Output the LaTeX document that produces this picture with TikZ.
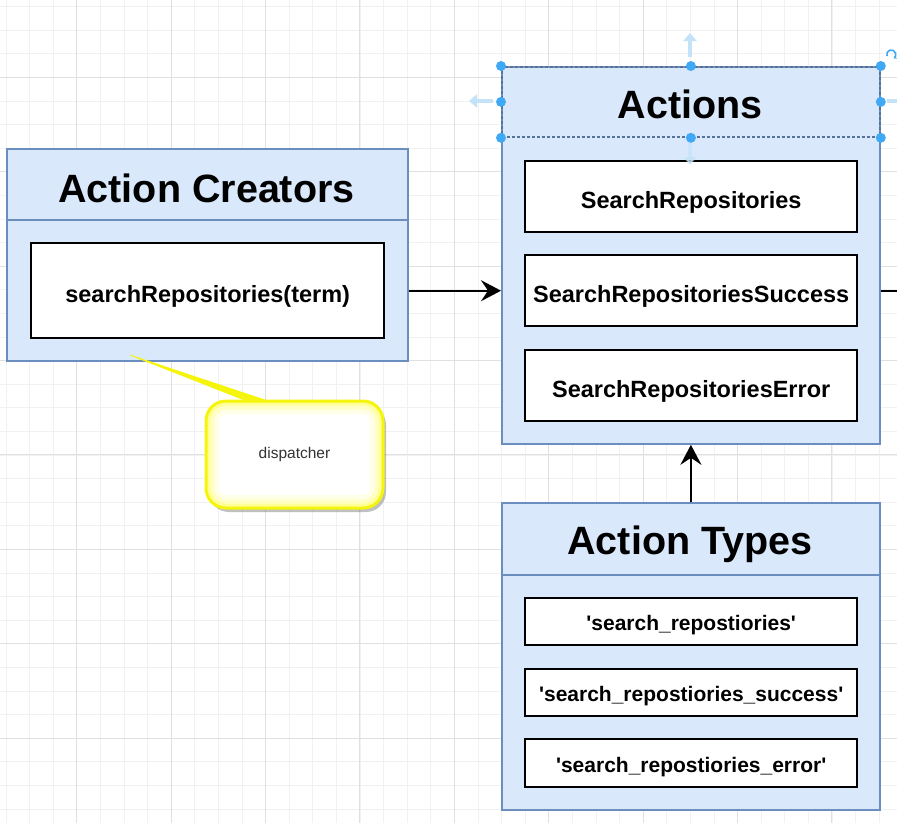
\documentclass[tikz,border=0pt]{standalone}
\usepackage{fontspec}
\setmainfont{Liberation Sans}
\usetikzlibrary{arrows.meta,shadows}
\definecolor{boxfill}{HTML}{DAE8FC}
\definecolor{boxline}{HTML}{6C8EBF}
\definecolor{gridminor}{HTML}{F1F1F1}
\definecolor{gridmajor}{HTML}{E0E0E0}
\definecolor{handle}{HTML}{3FA9F5}
\definecolor{handlefaint}{HTML}{C4E3F8}
\definecolor{noteline}{HTML}{F4F40C}
\definecolor{noteedge}{HTML}{FFFF40}
\begin{document}
\begin{tikzpicture}[x=1pt,y=-1pt,
    container/.style={draw=boxline,fill=boxfill,line width=1.8pt,inner sep=0pt,anchor=north west},
    headbar/.style={draw=boxline,line width=1.8pt,inner sep=0pt,anchor=north west},
    title/.style={anchor=base,font=\fontsize{39.5}{40}\selectfont\bfseries},
    member/.style={draw=black,fill=white,line width=2.4pt,inner sep=0pt,anchor=north west,
        text height=24pt,text depth=0pt,font=\fontsize{23.5}{24}\selectfont\bfseries},
    typename/.style={member,text height=17.6pt,font=\fontsize{21}{22}\selectfont\bfseries},
    flow/.style={line width=2.2pt,-{Stealth[length=20pt,width=21pt,inset=7pt]}},
    note/.style={anchor=north west,inner sep=0pt,outer sep=0pt,rounded corners=20pt,fill=white,
        text=black!80,font=\fontsize{15.5}{16}\selectfont,
        drop shadow={shadow xshift=3pt,shadow yshift=-4pt,opacity=.35,fill=black!70}},
    noterim/.style={noteline,line width=3pt,rounded corners=20pt},
    notetail/.style={fill=noteline,draw=noteline,line width=.8pt,line join=round},
    hint/.style={handlefaint,line width=4pt,-{Triangle[length=8pt,width=13pt]}}]
    % canvas grid
    \fill[white] (0,0) rectangle (897,823);
    \useasboundingbox (0,0) rectangle (897,823);
    \begin{scope}
        \clip (0,0) rectangle (897,823);
        \foreach \k in {0,...,39} {
            \draw[gridminor,line width=.8pt] ({-17.7+23.6*\k},0) -- ({-17.7+23.6*\k},823);
            \draw[gridminor,line width=.8pt] (0,{-17.1+23.6*\k}) -- (897,{-17.1+23.6*\k});
        }
        \foreach \k in {0,...,10} {
            \draw[gridmajor,line width=.9pt] ({-17.7+94.4*\k},0) -- ({-17.7+94.4*\k},823);
            \draw[gridmajor,line width=.9pt] (0,{-17.1+94.4*\k}) -- (897,{-17.1+94.4*\k});
        }
    \end{scope}
    % action creators
    \node[container,minimum width=401pt,minimum height=212pt] (creators) at (6,148) {};
    \node[headbar,minimum width=401pt,minimum height=71pt] (creatorsHead) at (6,148) {};
    \node[title] (creatorsTitle) at (206.5,202) {Action Creators};
    \node[member,minimum width=353pt,minimum height=95pt] (term) at (30,242) {searchRepositories(term)};
    % actions
    \node[container,minimum width=378pt,minimum height=377pt] (actions) at (501,66) {};
    \node[headbar,draw=boxline!80!black,dash pattern=on 3pt off 2pt,minimum width=378pt,minimum height=70pt] (actionsHead) at (501,66) {};
    \node[title] (actionsTitle) at (690,118) {Actions};
    \node[member,minimum width=332pt,minimum height=71pt] (search) at (524,160) {SearchRepositories};
    \node[member,minimum width=332pt,minimum height=71pt] (success) at (524,254) {SearchRepositoriesSuccess};
    \node[member,minimum width=332pt,minimum height=71pt] (error) at (524,349) {SearchRepositoriesError};
    % action types
    \node[container,minimum width=378pt,minimum height=307pt] (types) at (501,502) {};
    \node[headbar,minimum width=378pt,minimum height=72pt] (typesHead) at (501,502) {};
    \node[title] (typesTitle) at (690,554) {Action Types};
    \node[typename,minimum width=332pt,minimum height=47pt] (typeSearch) at (524,597) {\textquotesingle search\_repostiories\textquotesingle};
    \node[typename,minimum width=332pt,minimum height=47pt] (typeSuccess) at (524,668) {\textquotesingle search\_repostiories\_success\textquotesingle};
    \node[typename,minimum width=332pt,minimum height=48pt] (typeError) at (524,738) {\textquotesingle search\_repostiories\_error\textquotesingle};
    % connectors
    \coordinate (exitRight) at (actions.east |- success.center);
    \coordinate (offRight) at (897,289.5);
    \draw[flow] (creators.east |- term.center) -- (actions.west |- term.center);
    \draw[flow] (types.north) -- (actions.south);
    \draw[line width=1.8pt] (exitRight) -- (exitRight -| offRight);
    % dispatcher callout
    \coordinate (noteTip) at (130,355);
    \fill[notetail] (noteTip) -- (247,401) -- (268,401) -- cycle;
    \node[note,minimum width=177pt,minimum height=107pt] (disp) at (206,401) {dispatcher};
    \begin{scope}
        \clip[rounded corners=20pt] (disp.north west) rectangle (disp.south east);
        \foreach \w/\o in {26/.12,17/.2,9/.35}
            \draw[noteedge,line width=\w pt,opacity=\o,rounded corners=20pt] (disp.north west) rectangle (disp.south east);
    \end{scope}
    \draw[noterim] (disp.north west) rectangle (disp.south east);
    % selection handles
    \draw[hint] (690,57) -- (690,33);
    \draw[hint] (493,101) -- (469,101);
    \draw[hint,opacity=.7] (690,141) -- (690,165);
    \draw[handlefaint,line width=4pt] (887,101) -- (897,101);
    \foreach \a in {north west,north,north east,east,south east,south,south west,west}
        \fill[handle] (actionsHead.\a) circle (5pt);
    \draw[handle,line width=1.6pt,-{Stealth[length=3pt,width=4pt]}] (887,56) arc[start angle=200,end angle=-60,radius=4.5pt];
\end{tikzpicture}
\end{document}
